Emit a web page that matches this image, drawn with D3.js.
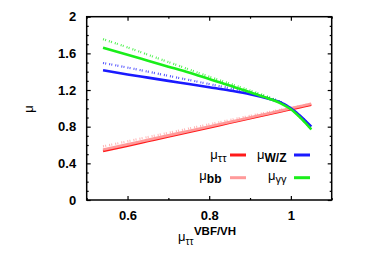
<!DOCTYPE html>
<html><head><meta charset="utf-8">
<script src="https://cdn.jsdelivr.net/npm/d3@7"></script>
<style>body{margin:0;background:#fff}svg{display:block}text{font-family:"Liberation Sans",Arial,Helvetica,sans-serif;fill:#000}</style>
</head><body>
<script>
// ---- data ----
const xValues   = [0.54, 0.6, 0.65, 0.7, 0.75, 0.8, 0.85, 0.9, 0.95, 0.975, 1.0, 1.025, 1.05];
const muTauTau  = [0.535, 0.593, 0.643, 0.693, 0.742, 0.792, 0.842, 0.892, 0.942, 0.967, 0.99, 1.015, 1.04];
const muBB      = [0.55, 0.607, 0.656, 0.705, 0.754, 0.803, 0.852, 0.901, 0.95, 0.975, 1.0, 1.025, 1.05];
const muBBAlt   = [0.585, 0.64, 0.687, 0.733, 0.78, 0.826, 0.872, 0.918, 0.963, 0.985, 1.005, 1.028, 1.052];
const muWZ      = [1.415, 1.37, 1.335, 1.30, 1.265, 1.23, 1.195, 1.155, 1.10, 1.065, 1.0, 0.91, 0.80];
const muWZAlt   = [1.495, 1.445, 1.40, 1.355, 1.31, 1.265, 1.22, 1.175, 1.11, 1.07, 1.0, 0.91, 0.80];
const muGG      = [1.66, 1.585, 1.52, 1.455, 1.39, 1.32, 1.25, 1.175, 1.10, 1.055, 0.99, 0.89, 0.77];
const muGGAlt   = [1.755, 1.665, 1.585, 1.505, 1.425, 1.345, 1.27, 1.195, 1.115, 1.065, 0.995, 0.89, 0.77];

const xTicks = [0.6, 0.8, 1.0];
const xTickLabels = ["0.6", "0.8", "1"];
const xMinorTicks = [0.5, 0.7, 0.9, 1.1];
const yTicks = [0, 0.4, 0.8, 1.2, 1.6, 2.0];
const yTickLabels = ["0", "0.4", "0.8", "1.2", "1.6", "2"];
const yMinorTicks = [0.1,0.2,0.3,0.5,0.6,0.7,0.9,1.0,1.1,1.3,1.4,1.5,1.7,1.8,1.9];

// ---- layout ----
const W = 374, H = 262;
const L = 86.7, R = 331.7, T = 16.7, B = 200;
const svg = d3.select("body").append("svg").attr("width", W).attr("height", H);
const x = d3.scaleLinear().domain([0.5, 1.1]).range([L, R]);
const y = d3.scaleLinear().domain([0, 2]).range([B, T]);

const RED = "#ff1a1a", PINK = "#ff9a9a", BLUE = "#1a1aff", GREEN = "#1aee1a";

function styleAxis(g) {
  g.select(".domain").remove();
  g.selectAll(".tick line").attr("stroke", "#000").attr("stroke-width", 1.2);
  g.selectAll(".tick text").attr("font-size", 13).attr("font-weight", "bold")
    .attr("font-family", '"Liberation Sans",Arial,sans-serif').attr("fill", "#000");
}
// major ticks
svg.append("g").attr("transform", `translate(0,${B})`)
  .call(d3.axisBottom(x).tickValues(xTicks).tickSize(-4).tickPadding(11).tickFormat((d, i) => xTickLabels[i])).call(styleAxis);
svg.append("g").attr("transform", `translate(0,${T})`)
  .call(d3.axisTop(x).tickValues(xTicks).tickSize(-4).tickFormat("")).call(styleAxis);
svg.append("g").attr("transform", `translate(${L},0)`)
  .call(d3.axisLeft(y).tickValues(yTicks).tickSize(-4).tickPadding(10.5).tickFormat((d, i) => yTickLabels[i])).call(styleAxis);
svg.append("g").attr("transform", `translate(${R},0)`)
  .call(d3.axisRight(y).tickValues(yTicks).tickSize(-4).tickFormat("")).call(styleAxis);
// minor ticks
svg.append("g").attr("transform", `translate(0,${B})`)
  .call(d3.axisBottom(x).tickValues(xMinorTicks).tickSize(-2).tickFormat("")).call(styleAxis);
svg.append("g").attr("transform", `translate(0,${T})`)
  .call(d3.axisTop(x).tickValues(xMinorTicks).tickSize(-2).tickFormat("")).call(styleAxis);
svg.append("g").attr("transform", `translate(${L},0)`)
  .call(d3.axisLeft(y).tickValues(yMinorTicks).tickSize(-2).tickFormat("")).call(styleAxis);
svg.append("g").attr("transform", `translate(${R},0)`)
  .call(d3.axisRight(y).tickValues(yMinorTicks).tickSize(-2).tickFormat("")).call(styleAxis);

// ---- curves ----
const line = d3.line().x((d, i) => x(xValues[i])).y(d => y(d)).curve(d3.curveMonotoneX);
const series = [
  { v: muBBAlt, c: PINK, dotted: true },
  { v: muWZAlt, c: BLUE, dotted: true },
  { v: muGGAlt, c: GREEN, dotted: true },
  { v: muTauTau, c: RED },
  { v: muBB, c: PINK },
  { v: muWZ, c: BLUE },
  { v: muGG, c: GREEN }
];
series.forEach(s => {
  svg.append("path").attr("d", line(s.v)).attr("fill", "none").attr("stroke", s.c)
    .attr("stroke-width", s.dotted ? 2.2 : 2.6)
    .attr("stroke-dasharray", s.dotted ? "1,1.2,1,3" : null)
    .attr("opacity", s.dotted ? 0.75 : 1);
});

// frame
svg.append("rect").attr("x", L).attr("y", T).attr("width", R - L).attr("height", B - T)
  .attr("fill", "none").attr("stroke", "#000").attr("stroke-width", 1.5);

// ---- legend ----
const legend = [
  { main: "μ", sub: "ττ", bold: false, c: RED, tx: 226.5, ly: 155, by: 159 },
  { main: "μ", sub: "bb", bold: true, c: PINK, tx: 221.5, ly: 177.7, by: 180 },
  { main: "μ", sub: "W/Z", bold: true, c: BLUE, tx: 286.5, ly: 155, by: 159 },
  { main: "μ", sub: "γγ", bold: false, c: GREEN, tx: 286.5, ly: 177.7, by: 180 }
];
legend.forEach(e => {
  const t = svg.append("text").attr("x", e.tx).attr("y", e.by).attr("text-anchor", "end").attr("font-size", 13);
  t.append("tspan").text(e.main);
  t.append("tspan").attr("dy", 3).attr("font-size", e.bold ? 12 : 11)
    .attr("font-weight", e.bold ? "bold" : "normal").text(e.sub);
  const lx = e.tx < 250 ? 230 : 294;
  svg.append("line").attr("x1", lx).attr("x2", lx + 16).attr("y1", e.ly).attr("y2", e.ly)
    .attr("stroke", e.c).attr("stroke-width", 3);
});

// ---- axis titles ----
svg.append("text").attr("transform", "translate(33,109) rotate(-90)").attr("text-anchor", "middle")
  .attr("font-size", 13).text("μ");
const xt = svg.append("text").attr("x", 178).attr("y", 241).attr("font-size", 13);
xt.append("tspan").text("μ");
xt.append("tspan").attr("dy", 4).attr("font-size", 10).text("ττ");
xt.append("tspan").attr("dy", -10).attr("dx", 0.5).attr("font-size", 11.5).attr("font-weight", "bold").text("VBF/VH");
</script>
</body></html>
